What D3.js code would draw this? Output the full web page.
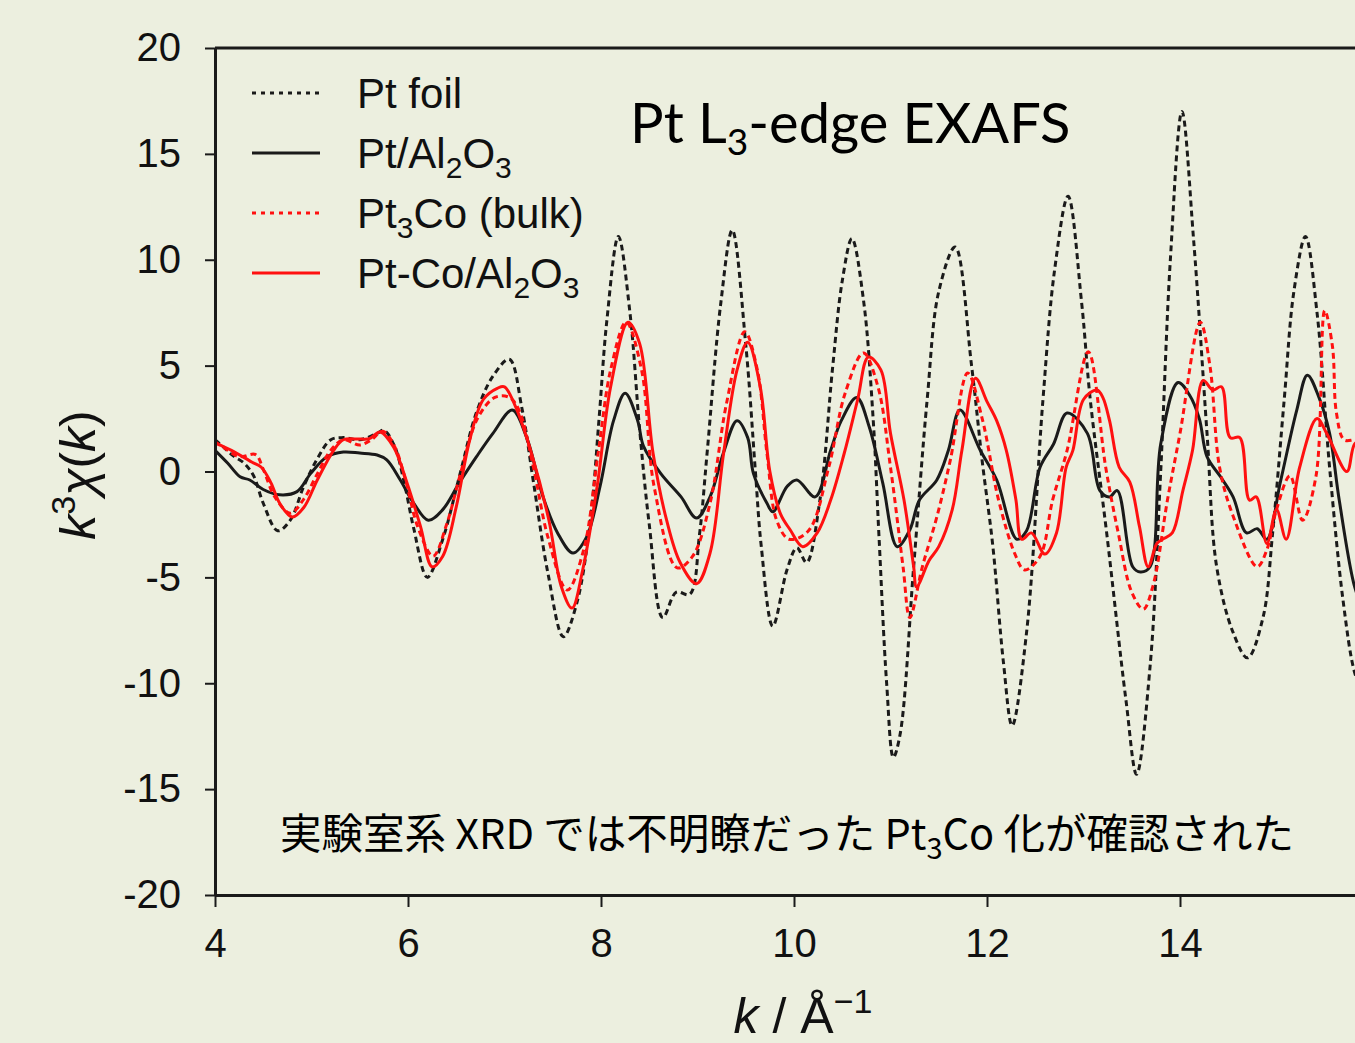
<!DOCTYPE html>
<html>
<head>
<meta charset="utf-8">
<script src="https://cdn.jsdelivr.net/npm/d3@7"></script>
<style>
  body { margin: 0; background: #ECEFDF; }
  svg { display: block; }
</style>
</head>
<body>
<script>
// k (1/Å), k^3 chi(k) pairs
const ptFoil = [
  [4.0,1.5],[4.1,1.1],[4.2,0.7],[4.3,0.4],[4.4,-0.2],[4.5,-1.5],[4.65,-2.8],[4.78,-2.3],[4.92,-0.7],
  [5.06,0.6],[5.2,1.5],[5.33,1.6],[5.5,1.5],[5.68,1.8],[5.75,1.95],[5.86,1.2],[5.96,-0.5],[6.06,-2.7],
  [6.2,-5.0],[6.36,-3.2],[6.54,-0.1],[6.71,2.8],[6.88,4.5],[7.05,5.3],[7.18,3.0],[7.3,-0.5],[7.45,-4.8],
  [7.61,-7.8],[7.75,-6.2],[7.89,-2.3],[7.98,2.5],[8.06,7.1],[8.18,11.1],[8.3,7.5],[8.4,2.0],[8.5,-2.5],
  [8.64,-6.9],[8.78,-5.7],[8.92,-5.8],[9.02,-3.0],[9.1,0.9],[9.24,7.9],[9.36,11.4],[9.5,6.0],[9.6,0],
  [9.66,-3.5],[9.78,-7.3],[9.93,-4.6],[10.03,-3.6],[10.13,-4.3],[10.27,-1.3],[10.4,4.9],[10.5,9.0],
  [10.6,11.0],[10.72,8.1],[10.82,2.5],[10.88,-3.0],[10.96,-10.0],[11.03,-13.5],[11.1,-12.4],[11.24,-4.5],
  [11.38,3.4],[11.5,8.5],[11.67,10.6],[11.84,5.0],[11.95,0.5],[12.06,-3.5],[12.17,-9.0],[12.26,-12.0],
  [12.41,-7.6],[12.58,3.4],[12.7,9.5],[12.84,13.0],[12.98,8.0],[13.07,3.4],[13.24,-2.9],[13.44,-10.8],
  [13.55,-14.3],[13.69,-9.2],[13.8,0],[13.9,10.0],[14.02,17.0],[14.14,11.0],[14.28,1.8],[14.38,-4.5],
  [14.55,-7.6],[14.7,-8.8],[14.86,-6.9],[14.96,-2.9],[15.08,3.4],[15.18,8.5],[15.3,11.1],[15.42,7.5],
  [15.55,0.2],[15.69,-6.1],[15.81,-9.5],[15.9,-10.5]
];

const ptAl2O3 = [
  [4.0,1.0],[4.13,0.4],[4.26,-0.25],[4.36,-0.4],[4.5,-0.85],[4.67,-1.1],[4.85,-0.95],[4.99,-0.1],
  [5.16,0.7],[5.33,0.92],[5.5,0.87],[5.68,0.78],[5.78,0.55],[5.92,-0.4],[6.06,-1.5],[6.21,-2.3],
  [6.36,-1.8],[6.53,-0.55],[6.71,0.7],[6.88,1.8],[7.08,2.9],[7.23,1.6],[7.4,-1.2],[7.55,-2.9],
  [7.71,-3.85],[7.85,-3.1],[7.99,-0.7],[8.13,2.4],[8.25,3.7],[8.38,2.4],[8.44,1.2],[8.62,-0.1],
  [8.83,-1.2],[8.99,-2.2],[9.13,-1.2],[9.27,0.9],[9.41,2.4],[9.52,1.6],[9.58,-0.1],[9.72,-1.5],
  [9.78,-1.9],[9.93,-0.7],[10.03,-0.4],[10.22,-1.2],[10.38,1.0],[10.49,2.4],[10.65,3.5],[10.78,2.1],
  [10.92,-0.55],[11.07,-3.55],[11.2,-2.76],[11.3,-1.35],[11.48,-0.4],[11.6,1.0],[11.72,2.9],[11.93,1.0],
  [12.1,-0.4],[12.31,-3.2],[12.41,-2.8],[12.55,0.2],[12.69,1.3],[12.83,2.76],[13.04,1.8],[13.17,-0.9],
  [13.27,-1.2],[13.35,-0.9],[13.51,-4.5],[13.59,-4.75],[13.69,-4.5],[13.8,1.3],[13.98,4.2],[14.1,3.6],
  [14.2,2.5],[14.28,0.7],[14.42,-0.25],[14.55,-1.2],[14.69,-2.9],[14.8,-2.7],[14.9,-3.2],[15.04,-0.5],
  [15.21,2.9],[15.32,4.55],[15.44,3.5],[15.55,1.8],[15.65,-1.35],[15.81,-5.45],[15.9,-6.5]
];

const pt3CoBulk = [
  [4.0,1.4],[4.1,1.1],[4.25,0.7],[4.42,0.8],[4.5,0.1],[4.62,-1.2],[4.78,-1.97],[4.92,-1.3],[5.05,-0.2],
  [5.2,1.0],[5.33,1.5],[5.5,1.25],[5.62,1.5],[5.74,1.9],[5.86,1.2],[5.98,-0.5],[6.1,-2.6],[6.26,-4.0],
  [6.4,-2.5],[6.55,0.0],[6.72,2.5],[6.9,3.5],[7.05,3.5],[7.15,2.9],[7.3,0.2],[7.45,-3.1],[7.65,-5.6],
  [7.82,-3.7],[7.97,0.85],[8.1,4.8],[8.26,7.05],[8.42,4.8],[8.55,-0.7],[8.79,-4.55],[8.95,-4.0],
  [9.13,-1.5],[9.3,3.2],[9.49,6.6],[9.62,4.8],[9.72,0.85],[9.82,-2.3],[9.95,-3.2],[10.15,-2.8],
  [10.36,0.2],[10.53,3.7],[10.72,5.6],[10.87,4.0],[11.0,0.2],[11.13,-4.5],[11.2,-6.9],[11.33,-4.5],
  [11.48,-2.15],[11.62,0.54],[11.8,4.65],[11.95,2.5],[12.12,-1.35],[12.29,-3.9],[12.39,-4.65],
  [12.55,-4.0],[12.68,-1.35],[12.83,1.0],[13.05,5.65],[13.23,0.2],[13.36,-2.9],[13.5,-5.7],[13.62,-6.5],
  [13.72,-5.4],[13.87,-1.35],[14.0,1.8],[14.21,7.05],[14.31,5.0],[14.41,0.2],[14.55,-2.1],[14.8,-4.5],
  [14.9,-3.7],[15.0,-1.8],[15.14,-0.2],[15.27,-2.3],[15.41,-0.2],[15.5,7.6],[15.58,5.9],[15.62,2.8],
  [15.7,1.5],[15.81,1.5],[15.9,1.5]
];

const ptCoAl2O3 = [
  [4.0,1.35],[4.17,1.0],[4.38,0.45],[4.48,0.2],[4.58,-0.54],[4.67,-1.5],[4.8,-2.15],[4.92,-1.7],
  [5.06,-0.4],[5.23,1.0],[5.33,1.5],[5.5,1.53],[5.6,1.55],[5.71,1.87],[5.85,1.16],[5.99,-0.54],
  [6.13,-2.6],[6.25,-4.5],[6.36,-4.0],[6.5,-1.67],[6.64,1.5],[6.78,3.4],[6.93,3.94],[7.0,4.0],
  [7.12,3.0],[7.28,0.85],[7.46,-2.3],[7.59,-5.45],[7.7,-6.45],[7.81,-4.65],[7.96,-0.7],[8.1,4.0],
  [8.28,7.05],[8.4,6.05],[8.54,0.85],[8.68,-2.3],[8.82,-4.3],[8.99,-5.3],[9.13,-3.85],[9.27,0.85],
  [9.41,4.8],[9.52,6.1],[9.65,4.0],[9.75,0],[9.86,-2.0],[9.96,-2.75],[10.09,-3.55],[10.24,-2.9],
  [10.38,-1.35],[10.52,0.85],[10.66,3.4],[10.77,5.4],[10.9,4.8],[11.0,1.8],[11.14,-1.35],[11.24,-4.5],
  [11.27,-5.45],[11.4,-4.2],[11.5,-3.55],[11.64,-1.8],[11.74,1.0],[11.88,4.4],[12.0,3.3],[12.1,2.4],
  [12.2,1.0],[12.3,-1.35],[12.36,-3.2],[12.46,-2.9],[12.6,-3.9],[12.72,-2.9],[12.82,0.2],[12.89,1.0],
  [13.0,3.4],[13.14,3.85],[13.2,3.5],[13.27,2.4],[13.37,0.2],[13.48,-0.5],[13.58,-2.6],[13.67,-4.5],
  [13.76,-3.4],[13.82,-3.2],[13.92,-2.9],[14.03,-0.9],[14.13,1.0],[14.24,4.3],[14.34,3.85],[14.43,4.0],
  [14.52,1.6],[14.62,1.6],[14.72,-1.35],[14.79,-1.2],[14.9,-3.4],[15.0,-1.8],[15.1,-3.2],[15.24,0.2],
  [15.42,2.5],[15.52,1.8],[15.73,0.0],[15.81,1.3],[15.9,1.5]
];

const xTicks = [4, 6, 8, 10, 12, 14];
const yTicks = [-20, -15, -10, -5, 0, 5, 10, 15, 20];

const series = [
  { name: 'Pt foil', data: ptFoil, color: '#1a1a1a', dash: '6,4' },
  { name: 'Pt/Al2O3', data: ptAl2O3, color: '#1a1a1a', dash: null },
  { name: 'Pt3Co (bulk)', data: pt3CoBulk, color: '#ff1010', dash: '6,4' },
  { name: 'Pt-Co/Al2O3', data: ptCoAl2O3, color: '#ff1010', dash: null }
];

const W = 1355, H = 1043;
const PLOT_LEFT = 215, PLOT_TOP = 48, PLOT_BOTTOM = 895;
const AXIS_COLOR = '#1a1a1a';
const FONT = "'Liberation Sans', Arial, sans-serif";

const svg = d3.select('body').append('svg')
  .attr('width', W)
  .attr('height', H);

svg.append('rect')
  .attr('width', W)
  .attr('height', H)
  .attr('fill', '#ECEFDF');

const x = d3.scaleLinear().domain([4, 16]).range([PLOT_LEFT, 1373]);
const y = d3.scaleLinear().domain([-20, 20]).range([PLOT_BOTTOM, PLOT_TOP]);

svg.append('clipPath').attr('id', 'plotclip')
  .append('rect')
  .attr('x', PLOT_LEFT).attr('y', PLOT_TOP)
  .attr('width', x(16) - PLOT_LEFT).attr('height', PLOT_BOTTOM - PLOT_TOP);

// Curves
const line = d3.line()
  .x(d => x(d[0]))
  .y(d => y(d[1]))
  .curve(d3.curveCatmullRom.alpha(0.5));

const curves = svg.append('g').attr('clip-path', 'url(#plotclip)');
series.forEach(s => {
  curves.append('path')
    .datum(s.data)
    .attr('d', line)
    .attr('fill', 'none')
    .attr('stroke', s.color)
    .attr('stroke-width', 3)
    .attr('stroke-dasharray', s.dash)
    .attr('stroke-linejoin', 'round');
});

// Axes
const yAxis = d3.axisLeft(y)
  .tickValues(yTicks)
  .tickSize(10)
  .tickSizeOuter(0)
  .tickPadding(24)
  .tickFormat(d => String(d));

const gy = svg.append('g')
  .attr('transform', `translate(${PLOT_LEFT},0)`)
  .call(yAxis);

const xAxis = d3.axisBottom(x)
  .tickValues(xTicks)
  .tickSize(12)
  .tickSizeOuter(0)
  .tickPadding(22)
  .tickFormat(d => String(d));

const gx = svg.append('g')
  .attr('transform', `translate(0,${PLOT_BOTTOM})`)
  .call(xAxis);

[gx, gy].forEach(g => {
  g.select('.domain').attr('stroke', AXIS_COLOR).attr('stroke-width', 3);
  g.selectAll('.tick line').attr('stroke', AXIS_COLOR).attr('stroke-width', 2);
  g.selectAll('.tick text')
    .attr('fill', '#111')
    .attr('font-family', FONT)
    .attr('font-size', 40);
});

// top frame line
svg.append('line')
  .attr('x1', PLOT_LEFT).attr('x2', x(16))
  .attr('y1', y(20)).attr('y2', y(20))
  .attr('stroke', AXIS_COLOR).attr('stroke-width', 3);

// Axis titles
const xTitle = svg.append('text')
  .attr('x', 803).attr('y', 1033)
  .attr('text-anchor', 'middle')
  .attr('font-family', FONT)
  .attr('font-size', 50)
  .attr('fill', '#111');
xTitle.append('tspan').attr('font-style', 'italic').text('k');
xTitle.append('tspan').text(' / Å');
xTitle.append('tspan').attr('dy', -20).attr('font-size', 34).text('−1');

const yTitle = svg.append('text')
  .attr('transform', 'translate(95,475) rotate(-90)')
  .attr('text-anchor', 'middle')
  .attr('font-family', FONT)
  .attr('font-size', 50)
  .attr('fill', '#111');
yTitle.append('tspan').attr('font-style', 'italic').text('k');
yTitle.append('tspan').attr('dy', -20).attr('font-size', 34).text('3');
yTitle.append('tspan').attr('dy', 20).attr('font-style', 'italic').text('χ');
yTitle.append('tspan').text('(');
yTitle.append('tspan').attr('font-style', 'italic').text('k');
yTitle.append('tspan').text(')');

// Legend
const legendRows = [
  { parts: [['Pt foil', 0]] },
  { parts: [['Pt/Al', 0], ['2', 1], ['O', 0], ['3', 1]] },
  { parts: [['Pt', 0], ['3', 1], ['Co (bulk)', 0]] },
  { parts: [['Pt-Co/Al', 0], ['2', 1], ['O', 0], ['3', 1]] }
];
const legend = svg.append('g');
series.forEach((s, i) => {
  const cy = 93 + i * 60;
  legend.append('line')
    .attr('x1', 252).attr('x2', 320)
    .attr('y1', cy).attr('y2', cy)
    .attr('stroke', s.color)
    .attr('stroke-width', 3)
    .attr('stroke-dasharray', s.dash ? '4,5' : null);
  const t = legend.append('text')
    .attr('x', 357).attr('y', cy + 15)
    .attr('font-family', FONT)
    .attr('font-size', 42)
    .attr('fill', '#111');
  let shifted = false;
  legendRows[i].parts.forEach(([txt, sub]) => {
    const sp = t.append('tspan').text(txt);
    if (sub && !shifted) { sp.attr('dy', 10).attr('font-size', 30); shifted = true; }
    else if (sub) { sp.attr('font-size', 30); }
    else if (shifted) { sp.attr('dy', -10); shifted = false; }
  });
});

// Title
const title = svg.append('text')
  .attr('x', 630).attr('y', 143)
  .attr('font-family', "Lato, 'Open Sans', sans-serif")
  .attr('font-size', 56)
  .attr('fill', '#000');
title.append('tspan').text('Pt L');
title.append('tspan').attr('dy', 12).attr('font-size', 37).text('3');
title.append('tspan').attr('dy', -12).text('-edge EXAFS');

// Japanese caption
const note = svg.append('text')
  .attr('x', 280).attr('y', 849)
  .attr('font-family', "'Noto Sans CJK JP', sans-serif")
  .attr('font-size', 41.5)
  .attr('fill', '#000');
note.append('tspan').text('実験室系 XRD では不明瞭だった Pt');
note.append('tspan').attr('dy', 10).attr('font-size', 29).text('3');
note.append('tspan').attr('dy', -10).text('Co 化が確認された');
</script>
</body>
</html>
